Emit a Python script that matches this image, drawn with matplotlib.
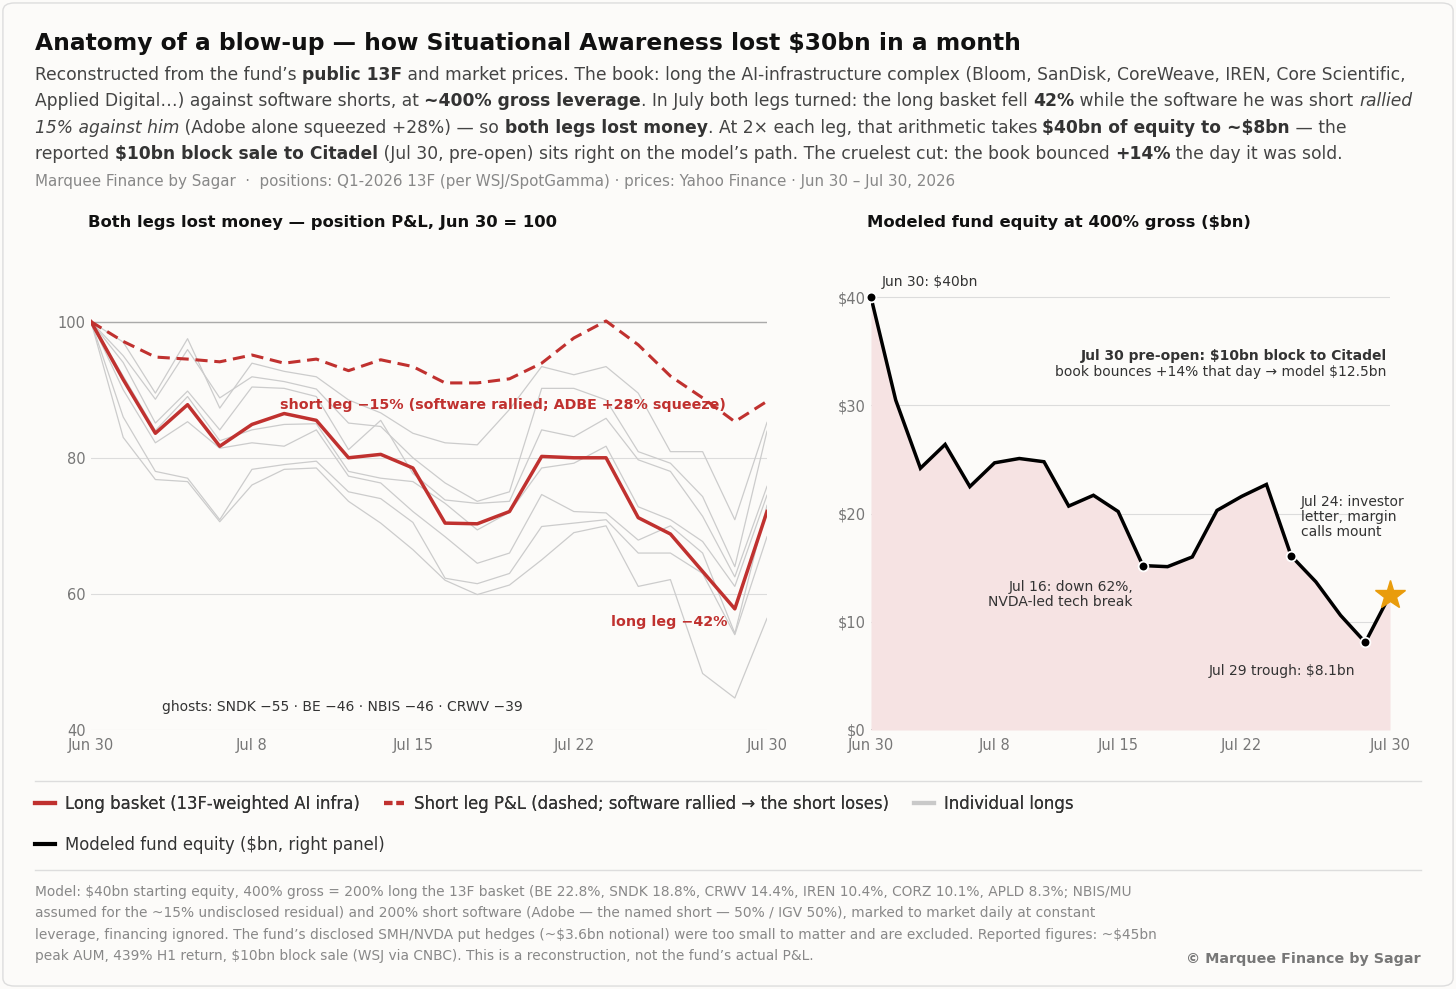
import matplotlib
matplotlib.use("Agg")
import matplotlib.pyplot as plt
from matplotlib.lines import Line2D
from matplotlib.patches import FancyBboxPatch

plt.rcParams['text.parse_math'] = False
plt.rcParams['font.family'] = ['DejaVu Sans']

# trading days Jun 30 - Jul 30, 2026
days = ['Jun 30', 'Jul 1', 'Jul 2', 'Jul 6', 'Jul 7', 'Jul 8', 'Jul 9', 'Jul 10',
        'Jul 13', 'Jul 14', 'Jul 15', 'Jul 16', 'Jul 17', 'Jul 20', 'Jul 21',
        'Jul 22', 'Jul 23', 'Jul 24', 'Jul 27', 'Jul 28', 'Jul 29', 'Jul 30']
tick_days = ['Jun 30', 'Jul 8', 'Jul 15', 'Jul 22', 'Jul 30']

long_leg = [100, 91.5, 83.6, 87.8, 81.7, 84.9, 86.5, 85.5, 80.0, 80.5, 78.5,
            70.4, 70.3, 72.1, 80.2, 80.0, 80.0, 71.2, 68.8, 63.3, 57.8, 72.1]
short_leg = [100, 97.1, 94.8, 94.5, 94.1, 95.1, 93.9, 94.5, 92.8, 94.4, 93.4,
             91.0, 91.0, 91.6, 93.9, 97.6, 100.1, 96.6, 92.0, 88.8, 85.3, 88.3]

ghosts = {
    'APLD': [100, 97, 89.5, 97.5, 87.3, 93.9, 92.7, 91.9, 88.5, 86.6, 83.6,
             82.2, 81.9, 87.1, 93.4, 92.2, 93.4, 89.5, 80.9, 80.9, 70.9, 85.2],
    'IREN': [100, 95, 88.6, 95.9, 88.8, 91.9, 91.2, 90.1, 85.1, 84.6, 80.0,
             76.3, 73.6, 75.0, 90.2, 90.2, 88.5, 80.9, 79.2, 74.3, 64.0, 83.9],
    'CORZ': [100, 94, 85.1, 89.8, 84.1, 90.4, 90.2, 89.0, 81.2, 85.5, 77.7,
             73.8, 73.3, 73.6, 84.1, 83.1, 85.8, 79.7, 78.0, 71.4, 62.5, 75.8],
    'CRWV': [100, 92, 84.0, 89.0, 82.5, 84.1, 84.9, 85.0, 78.0, 77.0, 76.5,
             73.3, 69.4, 72.0, 78.5, 79.2, 81.7, 72.8, 70.9, 67.7, 61.1, 74.5],
    'BE':   [100, 90, 82.2, 85.3, 81.4, 82.2, 81.7, 84.1, 77.3, 76.3, 72.1,
             68.4, 64.5, 66.0, 74.6, 72.1, 71.9, 67.9, 70.0, 66.0, 54.2, 73.0],
    'NBIS': [100, 86, 78.0, 77.0, 70.9, 78.3, 79.0, 79.5, 75.0, 74.0, 70.5,
             62.3, 61.5, 63.0, 69.9, 70.4, 70.9, 66.0, 66.0, 63.0, 54.0, 68.4],
    'SNDK': [100, 83, 76.8, 76.5, 70.6, 76.0, 78.3, 78.5, 73.6, 70.4, 66.5,
             62.0, 59.9, 61.3, 65.0, 69.0, 70.0, 61.1, 62.1, 48.3, 44.7, 56.4],
}

equity = [40.0, 30.5, 24.2, 26.4, 22.5, 24.7, 25.1, 24.8, 20.7, 21.7, 20.2,
          15.2, 15.1, 16.0, 20.3, 21.6, 22.7, 16.1, 13.7, 10.6, 8.1, 12.5]
marked_days = ['Jun 30', 'Jul 16', 'Jul 24', 'Jul 29']

RED = '#c0312f'
BG = '#fcfbf9'
W, H = 1456, 989

x = list(range(len(days)))
ticks = [days.index(d) for d in tick_days]

fig = plt.figure(figsize=(W / 100, H / 100), dpi=100, facecolor=BG)
rend = fig.canvas.get_renderer()


def fx(px):
    return px / W


def fy(py):
    return 1 - py / H


def px_axes(l, t, r, b):
    return fig.add_axes([fx(l), fy(b), (r - l) / W, (b - t) / H])


def seg_width(txt, **kw):
    t = fig.text(0, 0, '|' + txt + '|', **kw)
    w1 = t.get_window_extent(rend).width
    t.remove()
    t = fig.text(0, 0, '||', **kw)
    w0 = t.get_window_extent(rend).width
    t.remove()
    return w1 - w0


def rich_line(y, parts, x0=35, size=12.3):
    xx = x0
    for txt, style in parts:
        kw = dict(fontsize=size, color='#444444')
        if 'b' in style:
            kw['fontweight'] = 'bold'
            kw['color'] = '#333333'
        if 'i' in style:
            kw['fontstyle'] = 'italic'
        fig.text(fx(xx), fy(y), txt, va='baseline', ha='left', **kw)
        xx += seg_width(txt, **kw)


# frame
fig.add_artist(FancyBboxPatch((0.002, 0.003), 0.996, 0.994,
                              boxstyle='round,pad=0,rounding_size=0.008',
                              transform=fig.transFigure, facecolor='none',
                              edgecolor='#dddddd', lw=1))

# header
fig.text(fx(35), fy(50), 'Anatomy of a blow-up — how Situational Awareness lost $30bn in a month',
         fontsize=16.8, fontweight='bold', color='#111111', va='baseline')
rich_line(80, [('Reconstructed from the fund’s ', ''), ('public 13F', 'b'),
               (' and market prices. The book: long the AI-infrastructure complex '
                '(Bloom, SanDisk, CoreWeave, IREN, Core Scientific,', '')])
rich_line(106, [('Applied Digital…) against software shorts, at ', ''),
                ('~400% gross leverage', 'b'),
                ('. In July both legs turned: the long basket fell ', ''), ('42%', 'b'),
                (' while the software he was short ', ''), ('rallied', 'i')])
rich_line(133, [('15% against him', 'i'), (' (Adobe alone squeezed +28%) — so ', ''),
                ('both legs lost money', 'b'),
                ('. At 2× each leg, that arithmetic takes ', ''),
                ('$40bn of equity to ~$8bn', 'b'), (' — the', '')])
rich_line(159, [('reported ', ''), ('$10bn block sale to Citadel', 'b'),
                (' (Jul 30, pre-open) sits right on the model’s path. '
                 'The cruelest cut: the book bounced ', ''), ('+14%', 'b'),
                (' the day it was sold.', '')])
fig.text(fx(35), fy(186), 'Marquee Finance by Sagar  ·  positions: Q1-2026 13F (per WSJ/SpotGamma)'
         ' · prices: Yahoo Finance · Jun 30 – Jul 30, 2026',
         fontsize=10.9, color='#888888', va='baseline')

fig.text(fx(88), fy(227), 'Both legs lost money — position P&L, Jun 30 = 100',
         fontsize=11.8, fontweight='bold', color='#111111', va='baseline')
fig.text(fx(867), fy(227), 'Modeled fund equity at 400% gross ($bn)',
         fontsize=11.8, fontweight='bold', color='#111111', va='baseline')


def style_axes(ax):
    ax.set_facecolor('none')
    for s in ax.spines.values():
        s.set_visible(False)
    ax.tick_params(length=0, labelsize=10.5, labelcolor='#777777')
    ax.tick_params(axis='x', pad=6)
    ax.tick_params(axis='y', pad=4)
    ax.grid(axis='y', color='#dcdcdc', lw=0.8)
    ax.set_axisbelow(True)
    ax.set_xlim(0, len(days) - 1)
    ax.set_xticks(ticks)
    ax.set_xticklabels(tick_days)


# left panel
ax1 = px_axes(91, 240, 767, 730)
style_axes(ax1)
ax1.set_ylim(40, 112)
ax1.set_yticks([40, 60, 80, 100])
ax1.axhline(100, color='#aaaaaa', lw=1.0, zorder=1)
for name, vals in ghosts.items():
    ax1.plot(x, vals, color='#cccccc', lw=0.9, zorder=2)
ax1.plot(x, short_leg, color=RED, lw=2.2, ls=(0, (4, 2.2)), zorder=3)
ax1.plot(x, long_leg, color=RED, lw=2.5, zorder=4)
ax1.text(5.87, 87.8, 'short leg −15% (software rallied; ADBE +28% squeeze)',
         color=RED, fontsize=10.3, fontweight='bold', va='center', ha='left', zorder=5)
ax1.text(19.76, 55.9, 'long leg −42%', color=RED, fontsize=10.3, fontweight='bold',
         va='center', ha='right', zorder=5)
ax1.text(2.2, 43.4, 'ghosts: SNDK −55 · BE −46 · NBIS −46 · CRWV −39',
         color='#333333', fontsize=10, va='center', ha='left')

# right panel
ax2 = px_axes(871, 240, 1390, 730)
style_axes(ax2)
ax2.set_ylim(0, 45.3)
ax2.set_yticks([0, 10, 20, 30, 40])
ax2.set_yticklabels(['$0', '$10', '$20', '$30', '$40'])
ax2.axhline(0, color='#aaaaaa', lw=1.2, zorder=1)
ax2.fill_between(x, equity, 0, color='#f6e3e3', lw=0, zorder=1)
ax2.plot(x, equity, color='black', lw=2.5, zorder=3, solid_joinstyle='miter')
mi = [days.index(d) for d in marked_days]
ax2.plot(mi, [equity[i] for i in mi], 'o', ms=7, mfc='black', mec='white', mew=1.3,
         zorder=4, clip_on=False)
ax2.plot([x[-1]], [equity[-1]], marker='*', ms=22, color='#e99c0c', zorder=5, clip_on=False)
ax2.annotate('', xy=(21.08, 14.6), xytext=(16.15, 32.06),
             arrowprops=dict(arrowstyle='-', color='#e3b85a', lw=0.9), zorder=2)

ax2.text(0.45, 41.4, 'Jun 30: $40bn', fontsize=10, color='#333333', va='center', ha='left')
ax2.text(20.87, 34.6, 'Jul 30 pre-open: $10bn block to Citadel', fontsize=10,
         fontweight='bold', color='#333333', va='center', ha='right')
ax2.text(20.87, 33.1, 'book bounces +14% that day → model $12.5bn', fontsize=10,
         color='#333333', va='center', ha='right')
ax2.text(17.4, 19.7, 'Jul 24: investor\nletter, margin\ncalls mount', fontsize=10,
         color='#333333', va='center', ha='left', linespacing=1.1)
ax2.text(10.6, 12.5, 'Jul 16: down 62%,\nNVDA-led tech break', fontsize=10,
         color='#333333', va='center', ha='right', multialignment='right', linespacing=1.1)
ax2.text(16.63, 5.45, 'Jul 29 trough: $8.1bn', fontsize=10, color='#333333',
         va='center', ha='center')

# dividers
for yy in (781, 870):
    fig.add_artist(Line2D([fx(35), fx(1421)], [fy(yy), fy(yy)], color='#dddddd', lw=1))

# legend
h_long = Line2D([], [], color=RED, lw=3)
h_short = Line2D([], [], color=RED, lw=3, ls=(0, (2, 1)))
h_ind = Line2D([], [], color='#c9c9c9', lw=3)
h_eq = Line2D([], [], color='black', lw=3)
leg_kw = dict(frameon=False, fontsize=11.9, handlelength=1.2, handletextpad=0.6,
              columnspacing=1.5, borderpad=0, borderaxespad=0, labelcolor='#333333')
leg1 = fig.legend([h_long, h_short, h_ind],
                  ['Long basket (13F-weighted AI infra)',
                   'Short leg P&L (dashed; software rallied → the short loses)',
                   'Individual longs'],
                  loc='center left', bbox_to_anchor=(fx(35), fy(804)), ncol=3, **leg_kw)
fig.add_artist(leg1)
fig.legend([h_eq], ['Modeled fund equity ($bn, right panel)'],
           loc='center left', bbox_to_anchor=(fx(35), fy(845)), ncol=1, **leg_kw)

# footer
notes = [
    'Model: $40bn starting equity, 400% gross = 200% long the 13F basket (BE 22.8%, SNDK 18.8%, '
    'CRWV 14.4%, IREN 10.4%, CORZ 10.1%, APLD 8.3%; NBIS/MU',
    'assumed for the ~15% undisclosed residual) and 200% short software (Adobe — the named short — '
    '50% / IGV 50%), marked to market daily at constant',
    'leverage, financing ignored. The fund’s disclosed SMH/NVDA put hedges (~$3.6bn notional) were '
    'too small to matter and are excluded. Reported figures: ~$45bn',
    'peak AUM, 439% H1 return, $10bn block sale (WSJ via CNBC). This is a reconstruction, '
    'not the fund’s actual P&L.',
]
for k, line in enumerate(notes):
    fig.text(fx(35), fy(896 + 21.3 * k), line, fontsize=9.9, color='#888888', va='baseline')
fig.text(fx(1421), fy(963), '© Marquee Finance by Sagar', fontsize=10.3, fontweight='bold',
         color='#777777', va='baseline', ha='right')

fig.savefig('out.png', dpi=100, facecolor=BG)
